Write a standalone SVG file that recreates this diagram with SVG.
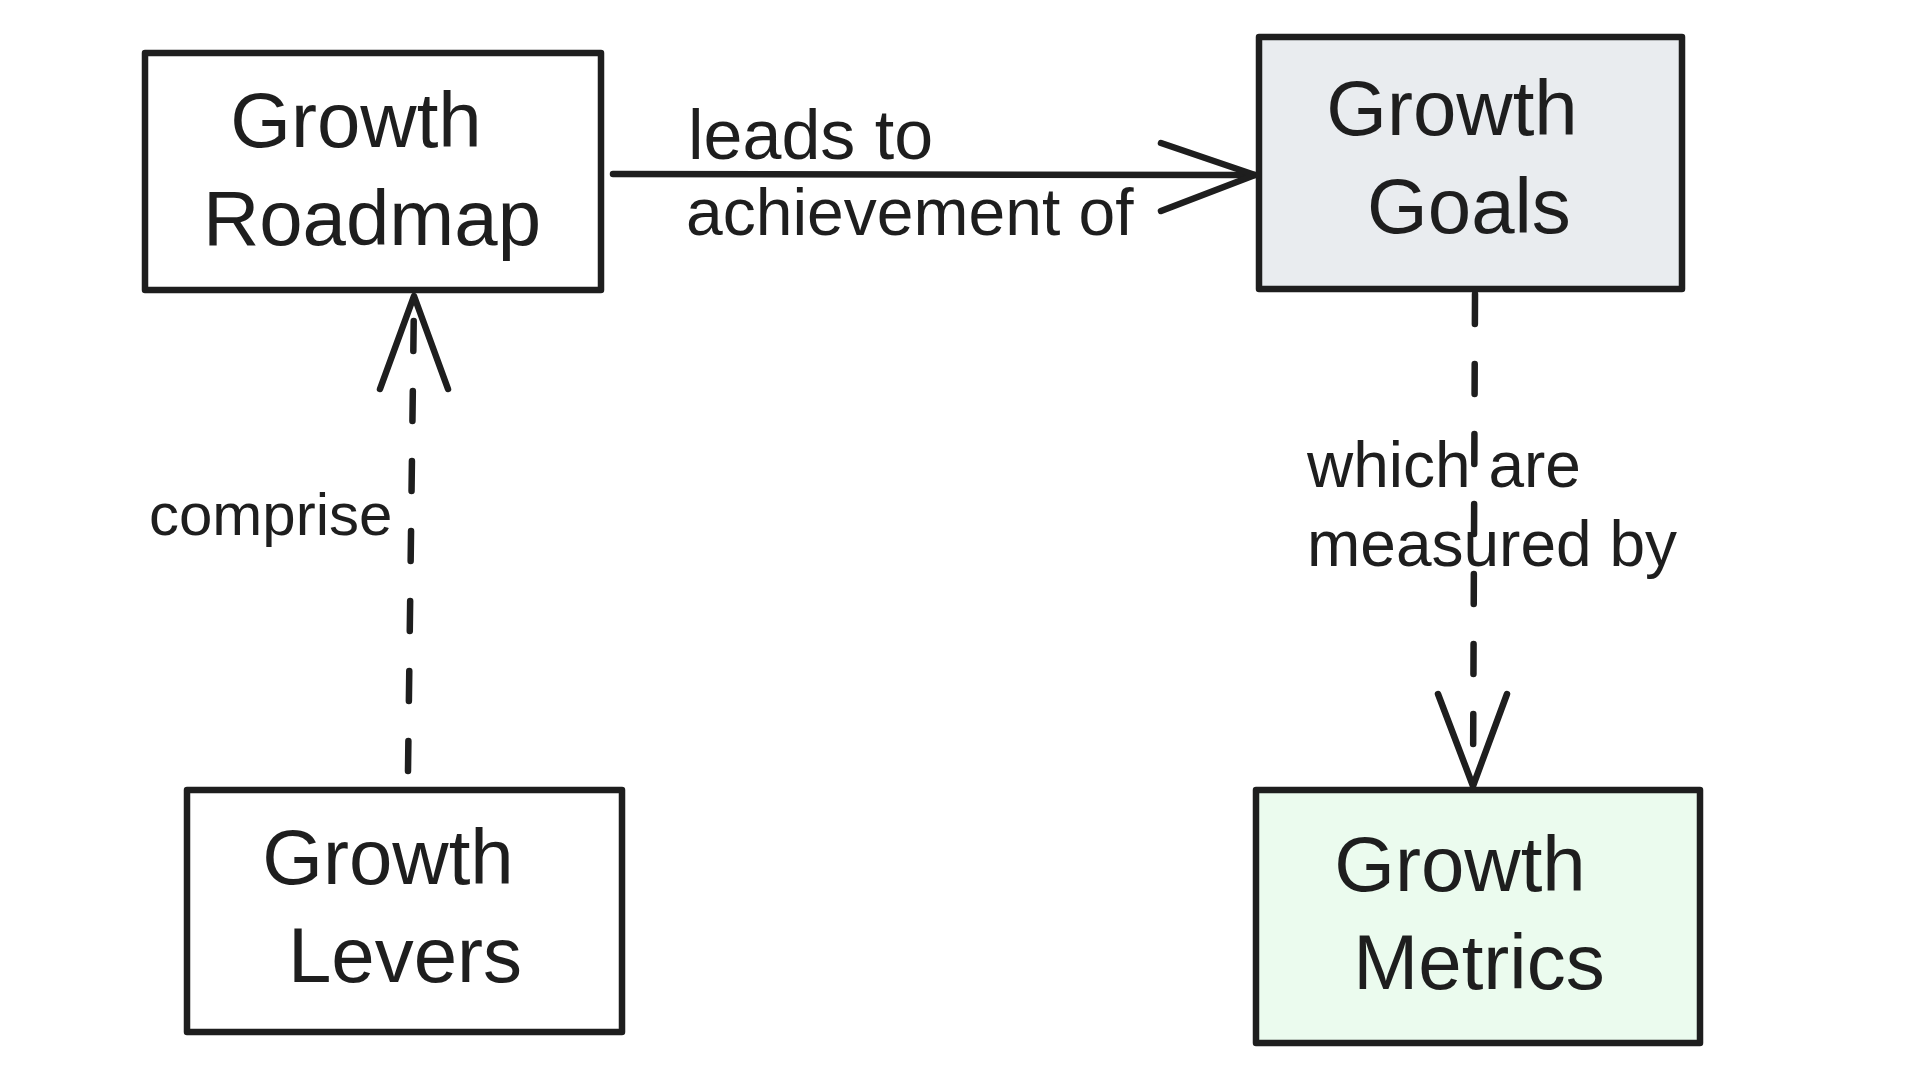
<svg xmlns="http://www.w3.org/2000/svg" width="1920" height="1080" viewBox="0 0 1920 1080">
<style>
.box{stroke:#1e1e1e;stroke-width:6.5;stroke-linejoin:round}
.nt{font-family:"Liberation Sans",Arial,sans-serif;font-size:78px;fill:#1e1e1e;text-anchor:middle}
.lt{font-family:"Liberation Sans",Arial,sans-serif;fill:#1e1e1e}
.edge{fill:none;stroke:#1e1e1e;stroke-width:6.5;stroke-linecap:round;stroke-linejoin:round}
.dash{stroke-dasharray:30 40}
</style>
<rect width="1920" height="1080" fill="#ffffff"/>
<g id="connectors">
  <g id="edge-roadmap-goals">
    <path class="edge" d="M613 174 L1255 175"/>
    <path class="edge" d="M1161 143 L1255 175 L1161 211"/>
    <text class="lt" x="688" y="159" font-size="70">leads to</text>
    <text class="lt" x="686" y="235" font-size="66">achievement of</text>
  </g>
  <g id="edge-levers-roadmap">
    <path class="edge dash" d="M408 771 L414 298"/>
    <path class="edge" d="M380 389 L414 296 L448 389"/>
    <text class="lt" x="149" y="535" font-size="60">comprise</text>
  </g>
  <g id="edge-goals-metrics">
    <path class="edge dash" d="M1475 294 L1473 784"/>
    <path class="edge" d="M1438 694 L1473 786 L1507 694"/>
    <text class="lt" x="1307" y="487" font-size="64">which are</text>
    <text class="lt" x="1307" y="566" font-size="64">measured by</text>
  </g>
</g>
<g id="node-roadmap">
  <rect class="box" x="145" y="53" width="456" height="237" fill="#ffffff"/>
  <text class="nt" x="356" y="147">Growth</text>
  <text class="nt" x="372" y="245">Roadmap</text>
</g>
<g id="node-goals">
  <rect class="box" x="1259" y="37" width="423" height="252" fill="#e9ecef"/>
  <text class="nt" x="1452" y="135">Growth</text>
  <text class="nt" x="1469" y="233">Goals</text>
</g>
<g id="node-levers">
  <rect class="box" x="187" y="790" width="435" height="242" fill="#ffffff"/>
  <text class="nt" x="388" y="884">Growth</text>
  <text class="nt" x="405" y="982">Levers</text>
</g>
<g id="node-metrics">
  <rect class="box" x="1256" y="790" width="444" height="253" fill="#ebfbee"/>
  <text class="nt" x="1460" y="891">Growth</text>
  <text class="nt" x="1479" y="989">Metrics</text>
</g>
</svg>
